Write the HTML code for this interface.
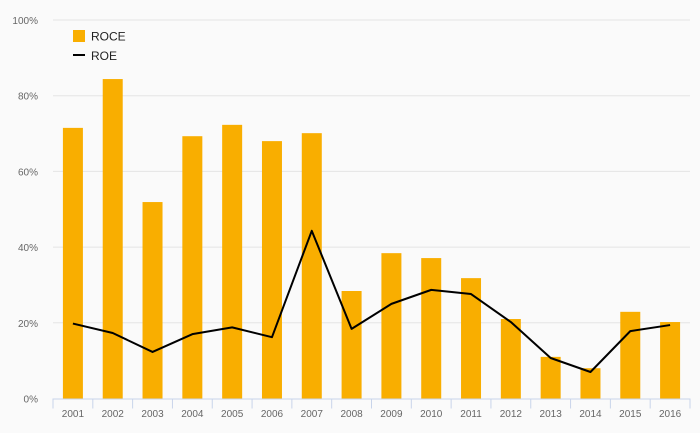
<!DOCTYPE html>
<html><head><meta charset="utf-8"><style>
html,body{margin:0;padding:0;background:#fafafa;}
svg{display:block;font-family:"Liberation Sans",sans-serif;}
</style></head><body>
<svg id="chart" width="700" height="433">
<rect width="700" height="433" fill="#fafafa"/>
<g id="grid"></g><g id="bars"></g><g id="line"></g><g id="axes"></g>
<g>
<rect x="73" y="30" width="12" height="12" fill="#f9ae00"/>
<text x="91" y="40.5" font-size="12" fill="#222">ROCE</text>
<line x1="73" y1="55" x2="85" y2="55" stroke="#000" stroke-width="2"/>
<text x="91" y="60" font-size="12" fill="#222">ROE</text>
</g>
</svg>
<script>
const categories=["2001","2002","2003","2004","2005","2006","2007","2008","2009","2010","2011","2012","2013","2014","2015","2016"];
const roce=[71.5,84.4,51.9,69.3,72.3,68,70.1,28.4,38.4,37.1,31.8,21,11,8,22.9,20.2];
const roe=[19.8,17.3,12.3,17,18.8,16.2,44.3,18.4,25,28.7,27.6,20.2,10.7,7,17.8,19.4];
const yTicks=[0,20,40,60,80,100];
const yTickLabels=["0%","20%","40%","60%","80%","100%"];

const NS="http://www.w3.org/2000/svg";
const x0=53,x1=690,y0=398.5,y1=20;
const band=(x1-x0)/categories.length;
const xC=i=>x0+band*(i+0.5);
const y=v=>y0-(v/100)*(y0-y1);
function mk(tag,attrs,parent){const e=document.createElementNS(NS,tag);for(const k in attrs)e.setAttribute(k,attrs[k]);document.getElementById(parent).appendChild(e);return e;}

yTicks.forEach((t,i)=>{
  if(t>0){const g=mk("line",{x1:x0,x2:x1,y1:y(t),y2:y(t),stroke:"#e4e4e4","stroke-width":1},"grid");
  
  }
  const l=mk("text",{x:38,y:y(t)+4,"font-size":10,fill:"#666","text-anchor":"end"},"axes");
  l.textContent=yTickLabels[i];
  
  
});
roce.forEach((v,i)=>{
  const b=mk("rect",{x:xC(i)-10,y:y(v),width:20,height:y0-y(v),fill:"#f9ae00"},"bars");
  
  
});
const p=mk("polyline",{points:roe.map((v,i)=>xC(i)+","+y(v)).join(" "),fill:"none",stroke:"#000","stroke-width":2,"stroke-linejoin":"round"},"line");


const ax=mk("line",{x1:x0,x2:x1,y1:y0+0.5,y2:y0+0.5,stroke:"#c8d4ea","stroke-width":1},"axes");


for(let i=0;i<=categories.length;i++){
  const tk=mk("line",{x1:x0+band*i,x2:x0+band*i,y1:y0,y2:y0+10,stroke:"#c8d4ea","stroke-width":1},"axes");
  
  
}
categories.forEach((c,i)=>{
  const t=mk("text",{x:xC(i),y:417,"font-size":10,fill:"#666","text-anchor":"middle"},"axes");
  t.textContent=c;
  
  
});
</script>
</body></html>
